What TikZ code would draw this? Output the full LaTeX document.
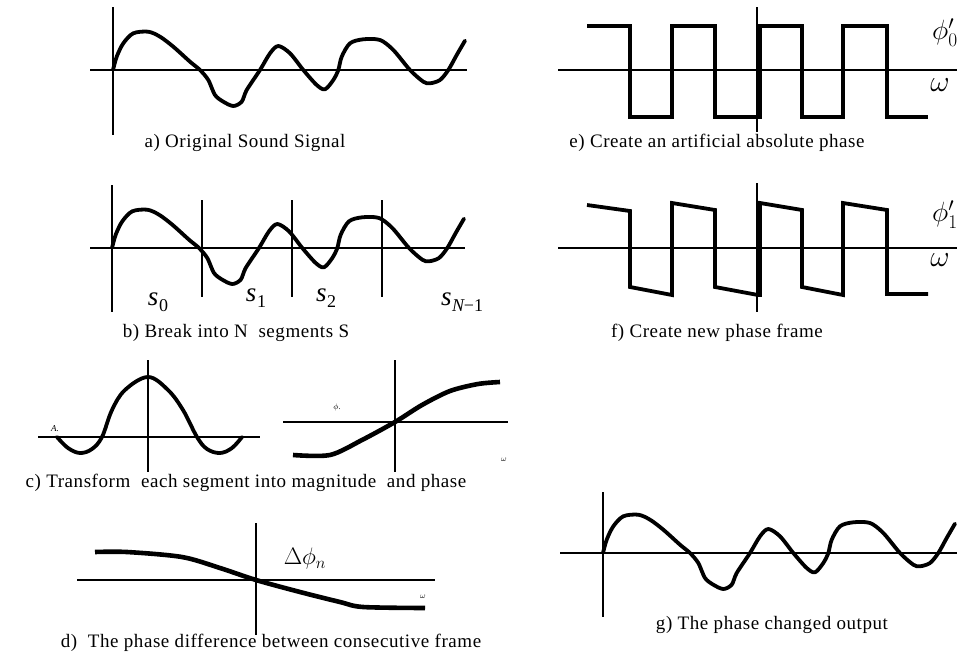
\documentclass[tikz,border=0pt]{standalone}
\usepackage{fontspec}
\setmainfont{Liberation Serif}
\newfontfamily\capfont[LetterSpace=3]{Liberation Serif}
\newcommand{\sndwave}[1]{\draw[wave,shift={#1}] plot[smooth,tension=0.5] coordinates {(0,0) (3.7,-13.3) (10.3,-26.7) (20.3,-36.7) (35.3,-38.3) (47,-33.3) (60.3,-23.3) (77,-8.3) (87,0) (95.3,10) (102,25) (110.3,31.7) (120.3,36) (128.7,31.7) (133.7,20) (147,0) (157,-16.7) (165.3,-24) (177,-16.7) (190.3,0) (203.7,15) (212,19.3) (220.3,10) (225.3,0) (228.7,-13.3) (237,-26.7) (250.3,-30.7) (267,-30) (280.3,-20) (297,0) (310.3,11.7) (317,13.3) (327,10) (335.3,0) (343.7,-15) (352,-29.3)};}
\begin{document}
\begin{tikzpicture}[x=1pt,y=-1pt,
  axis/.style={line width=1.6pt},
  wave/.style={line width=3.8pt,line join=round,line cap=round},
  sq/.style={line width=3.8pt,line join=miter},
  thk/.style={line width=4.6pt,line join=round},
  captext/.style={font=\capfont\fontsize{19}{22}\selectfont,inner sep=0pt},
  lbl/.style={font=\fontsize{27}{30}\selectfont,inner sep=0pt},
  tiny/.style={font=\fontsize{8}{9}\selectfont,inner sep=0pt}]
\useasboundingbox (0,0) rectangle (972,656);
% ---- a
\draw[axis] (113,7) -- (113,135);
\draw[axis] (90,70) -- (467,70);
\sndwave{(113,70)}
\node[captext] (capa) at (245,143) {a) Original Sound Signal};
% ---- b
\draw[axis] (90,248) -- (465,248);
\draw[axis] (112,185) -- (112,312);
\draw[axis] (202,200) -- (202,297);
\draw[axis] (292,200) -- (292,297);
\draw[axis] (382,200) -- (382,297);
\sndwave{(112,248)}
\node[lbl] (s0) at (158,302) {\textit{s}\kern0.5pt\raisebox{-6pt}{\fontsize{18}{20}\selectfont 0}};
\node[lbl] (s1) at (256,298) {\textit{s}\kern0.5pt\raisebox{-6pt}{\fontsize{18}{20}\selectfont 1}};
\node[lbl] (s2) at (326,298) {\textit{s}\kern0.5pt\raisebox{-6pt}{\fontsize{18}{20}\selectfont 2}};
\node[lbl] (sN) at (462,302) {\textit{s}\kern0.5pt\raisebox{-6pt}{\fontsize{18}{20}\selectfont\textit{N}\kern-1pt−1}};
\node[captext] (capb) at (236,333) {b) Break into N\ \ segments S};
% ---- c left
\draw[axis] (38,437) -- (260,437);
\draw[axis] (148,360) -- (148,472);
\draw[wave] plot[smooth,tension=0.6] coordinates {(57,437) (68,448) (80,453) (92,449) (102,437) (112,410) (125,390) (148,377) (168,390) (183,410) (197,437) (207,449) (220,453) (232,448) (242,437)};
\node[tiny,font=\fontsize{9}{10}\selectfont\itshape] (A) at (55,429) {A.};
% ---- c right
\draw[axis] (283,422) -- (508,422);
\draw[axis] (395,360) -- (395,472);
\draw[thk] plot[smooth,tension=0.5] coordinates {(293,455) (330,455) (362,440) (395,422) (422,405) (450,391) (478,384) (500,382)};
\node[tiny] (phic) at (337,407) {$\phi$.};
\node[tiny] (omc) at (504,460) {$\omega$};
\node[captext] (capc) at (246,483) {c) Transform\ \ each segment into magnitude\ \ and phase};
% ---- d
\draw[axis] (77,580) -- (435,580);
\draw[axis] (256,523) -- (256,635);
\draw[thk] plot[smooth,tension=0.5] coordinates {(95,552) (127,552) (182,557) (220,568) (256,580) (300,592) (340,602) (363,607) (425,608)};
\node[lbl,font=\fontsize{22}{24}\selectfont] (dphi) at (305,559) {\scalebox{1.15}{$\Delta\phi_n$}};
\node[tiny] (omd) at (423,597) {$\omega$};
\node[captext] (capd) at (271,643) {d)\ \ The phase difference between consecutive frame};
% ---- e
\draw[axis] (558,70) -- (957,70);
\draw[axis] (757,7) -- (757,132);
\draw[sq] (587,26) -| (630,117) -| (672,26) -| (715,117) -| (760,26) -| (802,117) -| (843,26) -| (887,117) -- (928,117);
\node[lbl,font=\fontsize{24}{26}\selectfont] (phie) at (945,33) {\scalebox{1.12}{$\phi'_0$}};
\node[lbl,font=\fontsize{24}{26}\selectfont] (ome) at (940,85) {\scalebox{1.2}{$\omega$}};
\node[captext] (cape) at (717,143) {e) Create an artificial absolute phase};
% ---- f
\draw[axis] (558,248) -- (957,248);
\draw[axis] (757,183) -- (757,312);
\draw[sq] (587,205) -- (630,211) -- (630,287) -- (672,295) -- (672,203) -- (715,210) -- (715,287) -- (758,295) -- (760,295) -- (760,203) -- (802,210) -- (802,287) -- (843,295) -- (843,203) -- (887,210) -- (887,294) -- (928,294);
\node[lbl,font=\fontsize{24}{26}\selectfont] (phif) at (945,215) {\scalebox{1.12}{$\phi'_1$}};
\node[lbl,font=\fontsize{24}{26}\selectfont] (omf) at (940,260) {\scalebox{1.2}{$\omega$}};
\node[captext] (capf) at (717,333) {f) Create new phase frame};
% ---- g
\draw[axis] (560,553) -- (957,553);
\draw[axis] (603,492) -- (603,617);
\sndwave{(603,553)}
\node[captext] (capg) at (772,625) {g) The phase changed output};
\end{tikzpicture}
\end{document}
